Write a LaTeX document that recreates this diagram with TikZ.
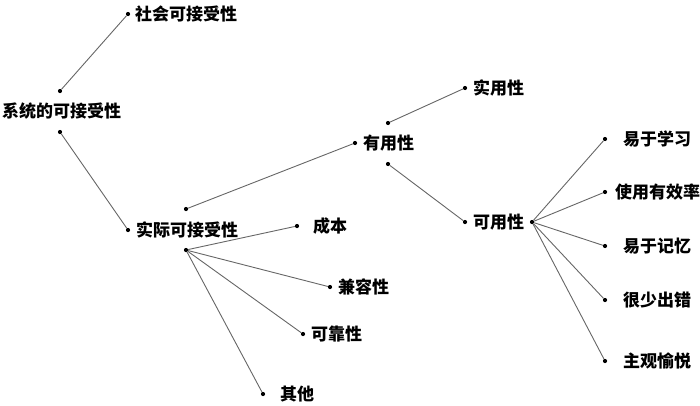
\documentclass[tikz,border=0pt]{standalone}
\usepackage{fontspec}
\newfontfamily\cjk{Noto Sans CJK SC}
\begin{document}
\begin{tikzpicture}[x=1pt,y=-1pt,
        dot/.style={circle,fill,inner sep=0pt,minimum size=4.2pt},
        lbl/.style={anchor=west,inner sep=0pt,font=\cjk\bfseries\fontsize{17}{17}\selectfont},
        link/.style={draw=black!60,line width=0.9pt}]
    \useasboundingbox (0,0) rectangle (700,405);
    % root
    \node [lbl] (sys) at (2,111) {系统的可接受性};
    \node [dot] (sysup) at (60,91) {};
    \node [dot] (sysdn) at (60,132) {};
    \node [dot] (socdot) at (128,14) {};
    \node [lbl] (soc) at (135,14) {社会可接受性};
    \node [dot] (actdot) at (128,230) {};
    \node [lbl] (act) at (136,230) {实际可接受性};
    \node [dot] (actup) at (186,209) {};
    \node [dot] (actdn) at (186,250) {};
    % practical acceptability
    \node [dot] (costdot) at (297,226) {};
    \node [lbl] (cost) at (313,226) {成本};
    \node [dot] (compdot) at (330,287) {};
    \node [lbl] (comp) at (338,287) {兼容性};
    \node [dot] (reldot) at (303,334) {};
    \node [lbl] (rel) at (311,334) {可靠性};
    \node [dot] (othdot) at (263,394) {};
    \node [lbl] (oth) at (280,394) {其他};
    % usefulness
    \node [dot] (usedot) at (355,143) {};
    \node [lbl] (use) at (363,143) {有用性};
    \node [dot] (useup) at (388,123) {};
    \node [dot] (usedn) at (388,164) {};
    \node [dot] (utildot) at (465,88) {};
    \node [lbl] (util) at (473,88) {实用性};
    \node [dot] (usabdot) at (465,222) {};
    \node [lbl] (usab) at (473,222) {可用性};
    \node [dot] (usabr) at (532,222) {};
    % usability
    \node [dot] (learndot) at (605,139) {};
    \node [lbl] (learn) at (623,139) {易于学习};
    \node [dot] (effdot) at (605,192) {};
    \node [lbl] (eff) at (615,192) {使用有效率};
    \node [dot] (memdot) at (605,246) {};
    \node [lbl] (mem) at (623,246) {易于记忆};
    \node [dot] (errdot) at (605,300) {};
    \node [lbl] (err) at (623,300) {很少出错};
    \node [dot] (satdot) at (605,361) {};
    \node [lbl] (sat) at (623,361) {主观愉悦};
    % links
    \draw [link] (sysup) -- (socdot);
    \draw [link] (sysdn) -- (actdot);
    \draw [link] (actup) -- (usedot);
    \draw [link] (useup) -- (utildot);
    \draw [link] (usedn) -- (usabdot);
    \foreach \t in {costdot,compdot,reldot,othdot}
        \draw [link] (actdn) -- (\t);
    \foreach \t in {learndot,effdot,memdot,errdot,satdot}
        \draw [link] (usabr) -- (\t);
\end{tikzpicture}
\end{document}
